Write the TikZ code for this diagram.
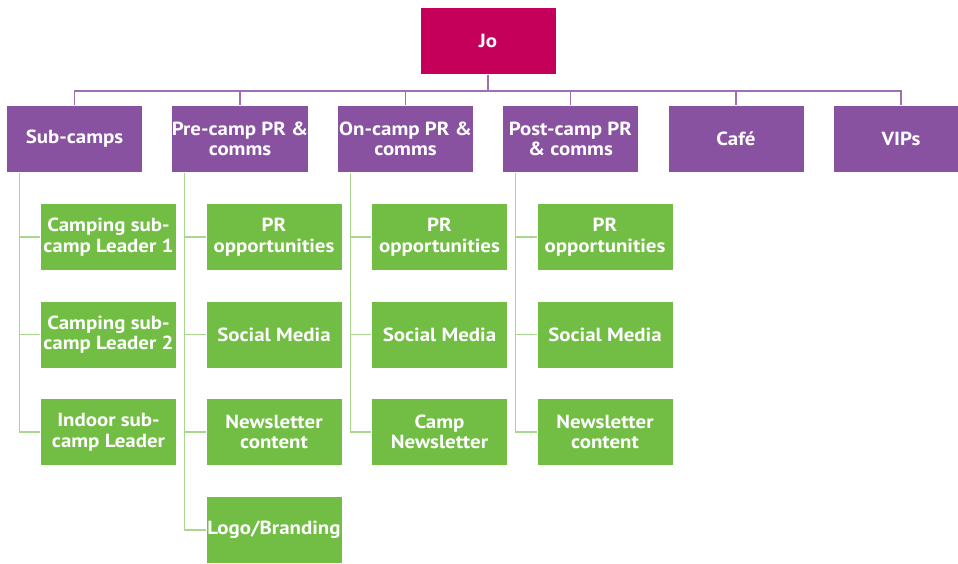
\documentclass[tikz,border=0pt]{standalone}
\usepackage{fontspec}
\setmainfont{PT Sans}[FakeStretch=1.1]
\usepackage{xcolor}
\definecolor{joPink}{RGB}{197,0,91}
\definecolor{leadPurple}{RGB}{137,82,160}
\definecolor{linkPurple}{RGB}{160,110,180}
\definecolor{taskGreen}{RGB}{114,189,68}
\definecolor{linkGreen}{RGB}{170,214,142}

\begin{document}
\begin{tikzpicture}[x=1pt,y=-1pt,
  box/.style={draw=white, line width=0.6pt, text=white, minimum width=136pt,
    minimum height=67pt, inner sep=0pt, align=center,
    font=\bfseries\fontsize{19}{20.5}\selectfont},
  headbox/.style={box, fill=joPink},
  leadbox/.style={box, fill=leadPurple},
  taskbox/.style={box, fill=taskGreen},
  toplink/.style={draw=linkPurple, line width=1.4pt},
  sublink/.style={draw=linkGreen, line width=1.4pt}]
\useasboundingbox (0,0) rectangle (958,563);

% Head
\node [headbox] (jo) at (488,41) {Jo};

% Leads
\node [leadbox] (sub)  at (74.5,139) {Sub-camps};
\node [leadbox] (pre)  at (240,139)  {Pre-camp PR \&\\comms};
\node [leadbox] (on)   at (405.5,139) {On-camp PR \&\\comms};
\node [leadbox] (post) at (570.5,139) {Post-camp PR\\\& comms};
\node [leadbox] (cafe) at (736,139)  {Café};
\node [leadbox] (vips) at (901,139)  {VIPs};

% Sub-camps tasks
\node [taskbox] (sub1) at (108.5,237)   {Camping sub-\\camp Leader 1};
\node [taskbox] (sub2) at (108.5,334.5) {Camping sub-\\camp Leader 2};
\node [taskbox] (sub3) at (108.5,432)   {Indoor sub-\\camp Leader};

% Pre-camp tasks
\node [taskbox] (pre1) at (274,237)   {PR\\opportunities};
\node [taskbox] (pre2) at (274,334.5) {Social Media};
\node [taskbox] (pre3) at (274,432)   {Newsletter\\content};
\node [taskbox] (pre4) at (274,530)   {Logo/Branding};

% On-camp tasks
\node [taskbox] (on1) at (439.5,237)   {PR\\opportunities};
\node [taskbox] (on2) at (439.5,334.5) {Social Media};
\node [taskbox] (on3) at (439.5,432)   {Camp\\Newsletter};

% Post-camp tasks
\node [taskbox] (post1) at (605,237)   {PR\\opportunities};
\node [taskbox] (post2) at (605,334.5) {Social Media};
\node [taskbox] (post3) at (605,432)   {Newsletter\\content};

% Links from Jo
\foreach \lead in {sub,pre,on,post,cafe,vips}
  \draw [toplink] (jo.south) -- ++(0,16) -| (\lead.north);

% Links to tasks
\foreach \lead/\tasks in {sub/{sub1,sub2,sub3},pre/{pre1,pre2,pre3,pre4},
    on/{on1,on2,on3},post/{post1,post2,post3}}
  \foreach \task in \tasks
    \draw [sublink] ([xshift=13pt]\lead.south west) |- (\task.west);

\end{tikzpicture}
\end{document}
